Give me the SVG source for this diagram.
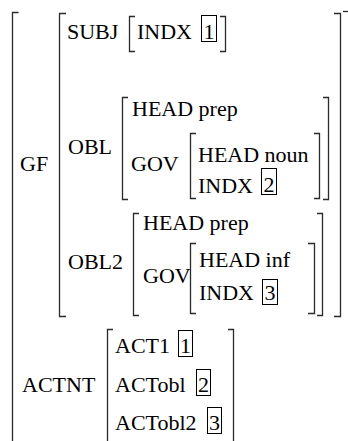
<svg xmlns="http://www.w3.org/2000/svg" width="348" height="441" viewBox="0 0 348 441" font-family="'Liberation Serif','Times New Roman',serif" font-size="22">
<style>
text{font-family:"Liberation Serif","Times New Roman",serif;font-size:22px;fill:#000}
.br{fill:none;stroke:#2a2a2a;stroke-width:1.3}
.bx{fill:none;stroke:#000;stroke-width:1}
</style>
<rect width="348" height="441" fill="#fff"/>
<g id="outer">
<path class="br" d="M18.5 12.5H12.5V441"/>
<path class="br" d="M343 11.5H348"/>
<text x="20" y="171">GF</text>
<text x="22" y="392">ACTNT</text>
</g>
<g id="gf">
<path class="br" d="M66 13.5H59.5V316.5H66"/>
<path class="br" d="M334 13.5H340.5V316.5H334"/>
<text x="67" y="39">SUBJ</text>
<text x="68" y="154">OBL</text>
<text x="68" y="269">OBL2</text>
</g>
<g id="subj">
<path class="br" d="M135 16.5H129.5V51.5H135"/>
<path class="br" d="M220 16.5H225.5V51.5H220"/>
<text x="137" y="39">INDX</text>
<rect class="bx" x="201.5" y="15.5" width="15" height="26"/>
<text x="203.5" y="39">1</text>
</g>
<g id="obl">
<path class="br" d="M128 97.5H122.5V199.5H128"/>
<path class="br" d="M323 97.5H328.5V199.5H323"/>
<text x="132" y="116">HEAD prep</text>
<text x="131" y="171">GOV</text>
</g>
<g id="obl-gov">
<path class="br" d="M196 133.5H190.5V198.5H196"/>
<path class="br" d="M314 133.5H319.5V198.5H314"/>
<text x="198" y="162">HEAD noun</text>
<text x="198" y="193">INDX</text>
<rect class="bx" x="261.5" y="168.5" width="15" height="26"/>
<text x="263.5" y="192">2</text>
</g>
<g id="obl2">
<path class="br" d="M139 213.5H133.5V315.5H139"/>
<path class="br" d="M317 213.5H322.5V315.5H317"/>
<text x="143" y="230">HEAD prep</text>
<text x="143" y="283">GOV</text>
</g>
<g id="obl2-gov">
<path class="br" d="M196 243.5H190.5V313.5H196"/>
<path class="br" d="M308 243.5H314.5V313.5H308"/>
<text x="199" y="267">HEAD inf</text>
<text x="199" y="300">INDX</text>
<rect class="bx" x="262.5" y="279.5" width="15" height="25"/>
<text x="264.5" y="300">3</text>
</g>
<g id="actnt">
<path class="br" d="M113 329.5H107.5V441"/>
<path class="br" d="M228 329.5H233.5V441"/>
<text x="115" y="353">ACT1</text>
<rect class="bx" x="178.5" y="330.5" width="14" height="26"/>
<text x="180" y="353">1</text>
<text x="115" y="392">ACTobl</text>
<rect class="bx" x="196.5" y="369.5" width="14" height="26"/>
<text x="198" y="392">2</text>
<text x="115" y="430">ACTobl2</text>
<rect class="bx" x="207.5" y="407.5" width="14" height="26"/>
<text x="209" y="430">3</text>
</g>
</svg>
